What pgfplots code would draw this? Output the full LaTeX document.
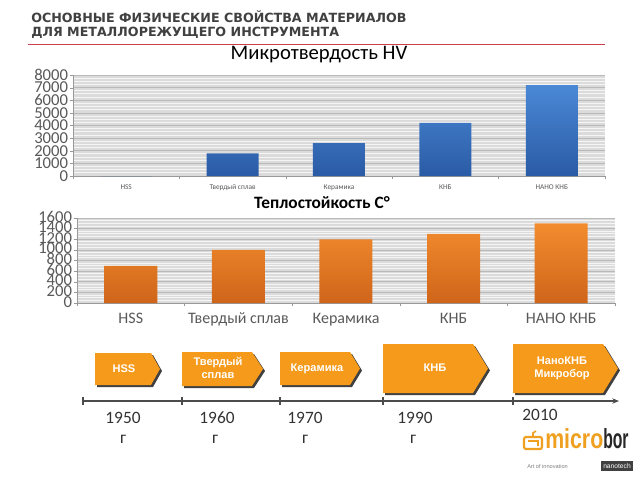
\documentclass[border=0pt]{standalone}
\usepackage{pgfplots}
\pgfplotsset{compat=1.18}
\usepackage{fontspec}
\setmainfont{Carlito}
\newfontfamily\titlefont{DejaVu Sans}
\newfontfamily\arial{Liberation Sans}
\usetikzlibrary{arrows.meta}
\definecolor{txtgray}{HTML}{595959}
\definecolor{ttlgray}{HTML}{404040}
\definecolor{barblueT}{HTML}{4A88D6}
\definecolor{barblueB}{HTML}{2A5BA5}
\definecolor{barorT}{HTML}{F28C2E}
\definecolor{barorB}{HTML}{CF651A}
\definecolor{arrowor}{HTML}{F59A1B}
\definecolor{redline}{HTML}{CC3F4C}
\definecolor{logoor}{HTML}{F0A020}
\pgfplotsset{
  slidebar/.style={
    scale only axis, anchor=south west,
    xmin=-0.5, xmax=4.5, ymin=0,
    ybar, bar shift=0pt,
    axis x line*=bottom, axis y line*=left,
    axis line style={gray!80},
    axis background/.style={fill=gray!28},
    ymajorgrids, yminorgrids,
    major grid style={gray!55, line width=0.5pt},
    minor grid style={white!92!gray, line width=0.7pt},
    minor tick length=0pt,
    tick align=outside, major tick length=2.5pt,
    tick style={gray!80},
    xtick={-0.5,0.5,...,4.5}, xticklabels={},
    extra x ticks={0,1,2,3,4},
    extra x tick labels={HSS,Твердый сплав,Керамика,КНБ,НАНО КНБ},
    extra x tick style={major tick length=0pt},
    /pgf/number format/assume math mode=true,
    /pgf/number format/1000 sep={},
    yticklabel style={text=txtgray, inner xsep=1pt},
  }
}
\begin{document}
\begin{tikzpicture}
\path[fill=white,use as bounding box] (0,0) rectangle (480pt,-360pt);

% ---------- chart 1 ----------
\begin{axis}[slidebar,
  at={(54.75pt,-132pt)}, width=399pt, height=75.75pt,
  ymax=8000, ytick={0,1000,...,8000}, minor y tick num=3,
  bar width=39pt,
  yticklabel style={font=\fontsize{12.5}{12.5}\selectfont},
  extra x tick style={xticklabel style={font=\fontsize{5.5}{6}\selectfont, text=txtgray, yshift=-3pt}},
]
\addplot[draw=none, top color=barblueT, bottom color=barblueB]
  coordinates {(0,0) (1,1800) (2,2600) (3,4200) (4,7200)};
\end{axis}

% ---------- chart 2 ----------
\begin{axis}[slidebar,
  at={(57.75pt,-227.25pt)}, width=403.5pt, height=63.75pt,
  ymax=1600, ytick={0,200,...,1600}, minor y tick num=3,
  bar width=39.75pt,
  yticklabel style={font=\fontsize{12.5}{12.5}\selectfont, inner ysep=0pt, text height=0.6em, text depth=0pt},
  extra x tick style={xticklabel style={font=\fontsize{12}{13}\selectfont, text=txtgray, yshift=-4pt}},
]
\addplot[draw=none, top color=barorT, bottom color=barorB]
  coordinates {(0,700) (1,1000) (2,1200) (3,1300) (4,1500)};
\end{axis}

\begin{scope}[x=0.75pt,y=-0.75pt]
% titles
\node[anchor=west, text=ttlgray, inner sep=0pt] at (31,17)
  {\titlefont\bfseries\fontsize{9.5}{11}\selectfont ОСНОВНЫЕ ФИЗИЧЕСКИЕ СВОЙСТВА МАТЕРИАЛОВ};
\node[anchor=west, text=ttlgray, inner sep=0pt] at (31,33)
  {\titlefont\bfseries\fontsize{9.5}{11}\selectfont ДЛЯ МЕТАЛЛОРЕЖУЩЕГО ИНСТРУМЕНТА};
\draw[redline, line width=1.4pt] (28,44.5) -- (605,44.5);
\node[inner sep=0pt] at (319,55) {\fontsize{15.5}{17}\selectfont Микротвердость HV};
\node[inner sep=0pt] at (322,203) {\bfseries\fontsize{13}{15}\selectfont Теплостойкость С°};

% timeline arrows (shadow, then body)
\foreach \xa/\xb/\xp/\ya/\yb in {95/160/151/353/385, 182/263/252/352/386, 280/360/350/352/385, 383/488/473/344/393, 513/618/603/344/393}{
  \pgfmathsetmacro\ym{(\ya+\yb)/2}
  \fill[black!75] (\xa+2,\ya+2) -- (\xp+2,\ya+2) -- (\xb+2,\ym+2) -- (\xp+2,\yb+2) -- (\xa+2,\yb+2) -- cycle;
  \fill[arrowor] (\xa,\ya) -- (\xp,\ya) -- (\xb,\ym) -- (\xp,\yb) -- (\xa,\yb) -- cycle;
}
\tikzset{tl/.style={text=white, font=\arial\bfseries\fontsize{8.3}{9.5}\selectfont, align=center, inner sep=0pt}}
\node[tl] at (124,369) {HSS};
\node[tl] at (218,368) {Твердый\\сплав};
\node[tl] at (317,369) {Керамика};
\node[tl] at (435,368) {КНБ};
\node[tl] at (562,368) {НаноКНБ\\Микробор};

% timeline axis
\draw[black!70, line width=0.8pt, -{Stealth[length=5pt,width=4pt]}] (83,401) -- (619,401);
\foreach \x in {83,182,280,383,513} \draw[black!70, line width=0.8pt] (\x,397) -- (\x,405);
\tikzset{yr/.style={text=black!80, font=\fontsize{13}{14}\selectfont, inner sep=0pt}}
\node[yr] at (123,418) {1950};
\node[yr] at (217,418) {1960};
\node[yr] at (305,418) {1970};
\node[yr] at (415,418) {1990};
\node[yr] at (540,415) {2010};
\node[yr] at (123,439) {г};
\node[yr] at (215,439) {г};
\node[yr] at (305,439) {г};
\node[yr] at (413,439) {г};
\node[yr] at (539,436) {г};

% logo
\fill[white] (520,428) rectangle (636,472);
\draw[logoor, line width=1.6pt, rounded corners=1.5pt] (524,437) rectangle (542,449);
\draw[logoor, line width=1.2pt] (528,441) -- (538,441) -- (538,446) (533,437) -- (533,433) -- (536,431);
\node[anchor=south west, inner sep=0pt, text=logoor] at (545,449) {\resizebox{43.5pt}{15pt}{\arial\bfseries micro}};
\node[anchor=south west, inner sep=0pt, text=black!85] at (603,449) {\resizebox{19pt}{15pt}{\arial\bfseries bor}};
\node[anchor=west, inner sep=0pt, text=gray] at (527,466) {\arial\fontsize{4.2}{5}\selectfont Art of innovation};
\fill[black!75] (601,461) rectangle (633,471);
\node[inner sep=0pt, text=white] at (617,466) {\arial\fontsize{5}{6}\selectfont nanotech};
\end{scope}
\end{tikzpicture}
\end{document}
